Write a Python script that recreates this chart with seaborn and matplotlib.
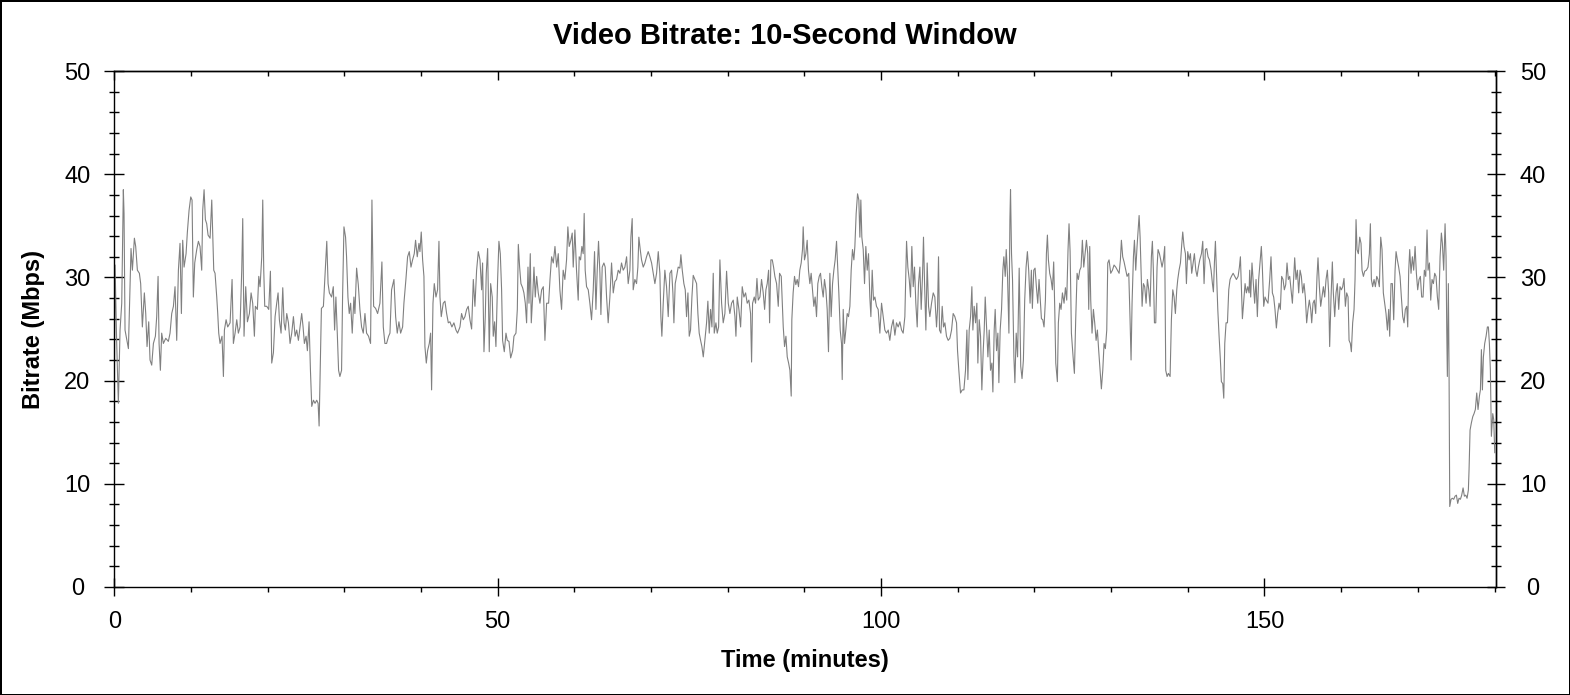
import matplotlib
matplotlib.use("Agg")
import matplotlib.pyplot as plt
from matplotlib.ticker import MultipleLocator
import seaborn as sns
import pandas as pd

# Bitrate trace, split into six stretches of time.
# minutes_X / mbps_X pairs, each value.
minutes_a = [0.0, 0.1, 0.3, 0.53, 0.75, 0.97, 1.18, 1.27, 1.40, 1.71, 1.84, 2.05, 2.18, 2.36, 2.62, 2.79, 3.01, 3.27,
             3.44, 3.66, 3.92, 4.10, 4.27, 4.49, 4.66, 4.88, 5.10, 5.36, 5.53, 5.71, 5.84, 6.01, 6.18, 6.40, 6.71,
             7.05, 7.27, 7.49, 7.71, 7.92, 8.14, 8.36, 8.57, 8.75, 8.92, 9.10, 9.36, 9.53, 9.75, 9.97, 10.14, 10.31,
             10.49, 10.75, 10.97, 11.18, 11.40, 11.53, 11.71, 11.88, 12.05, 12.23, 12.49, 12.71, 12.84, 12.97, 13.14,
             13.36, 13.49, 13.62, 13.79, 14.05, 14.23, 14.36, 14.58, 14.79, 15.10, 15.36, 15.53, 15.75, 15.97, 16.18,
             16.40, 16.62, 16.75, 16.92, 17.14, 17.36, 17.62, 17.84, 18.05, 18.27, 18.40, 18.66, 18.84, 19.01, 19.23,
             19.36, 19.49, 19.62, 19.88, 20.14, 20.36, 20.53, 20.75, 20.97, 21.18, 21.36, 21.53, 21.75, 21.97, 22.14,
             22.31, 22.49, 22.71, 22.92, 23.14, 23.36, 23.58, 23.79, 24.01, 24.23, 24.44, 24.62, 24.79, 25.01, 25.18,
             25.40, 25.58, 25.75, 25.97, 26.18, 26.40, 26.58, 26.71, 26.84, 27.01, 27.27, 27.53, 27.71, 27.88, 28.05]
mbps_a = [19.0, 31.2, 24.0, 17.8, 24.9, 27.5, 38.5, 36.2, 24.9, 23.6, 23.1, 29.1, 32.8, 30.7, 33.8, 33.0, 30.7, 30.4,
          29.4, 25.2, 28.5, 26.5, 23.3, 25.7, 22.0, 21.5, 23.6, 24.3, 26.2, 30.1, 23.6, 21.0, 24.6, 23.6, 24.1,
          23.8, 24.6, 26.5, 27.2, 29.1, 23.9, 30.7, 33.3, 26.5, 33.6, 31.0, 32.3, 34.4, 36.5, 37.8, 37.5, 28.1,
          31.4, 32.7, 33.5, 33.0, 30.7, 36.5, 38.5, 35.6, 35.2, 34.1, 33.8, 37.5, 34.0, 30.7, 30.4,
          28.1, 26.5, 24.6, 23.6, 24.3, 20.4, 24.9, 25.9, 25.2, 25.6, 29.8, 23.6, 24.6, 25.9, 24.6,
          25.2, 30.7, 35.7, 24.3, 29.1, 25.7, 26.5, 28.5, 27.5, 24.3, 27.2, 26.9, 30.1, 29.1, 32.0,
          37.5, 30.7, 27.2, 27.2, 26.9, 30.6, 21.7, 22.7, 26.2, 27.5, 28.5, 25.9, 24.6, 29.0, 25.6,
          24.9, 26.5, 25.6, 23.6, 24.6, 26.2, 24.3, 24.9, 23.9, 25.2, 26.5, 25.2, 23.6, 24.3, 22.9,
          25.7, 21.0, 17.5, 18.1, 17.8, 18.1, 17.8, 15.6, 20.4, 27.0, 27.2, 31.0, 33.5, 29.4, 28.5]

minutes_b = [28.34, 28.56, 28.73, 28.90, 29.08, 29.25, 29.42, 29.64, 29.77, 29.95, 30.16, 30.29, 30.47, 30.64, 30.82,
             31.03, 31.25, 31.38, 31.60, 31.82, 32.03, 32.25, 32.47, 32.69, 32.90, 33.16, 33.42, 33.60, 33.69, 33.82,
             34.08, 34.34, 34.64, 34.90, 35.08, 35.29, 35.51, 35.77, 35.95, 36.16, 36.47, 36.69, 36.90, 37.12, 37.34,
             37.60, 37.77, 38.03, 38.25, 38.47, 38.69, 38.90, 39.12, 39.29, 39.51, 39.73, 39.86, 40.03, 40.21, 40.38,
             40.51, 40.69, 40.86, 41.08, 41.25, 41.38, 41.56, 41.73, 41.95, 42.16, 42.34, 42.47, 42.64, 42.90, 43.12,
             43.34, 43.56, 43.77, 44.03, 44.29, 44.56, 44.77, 45.08, 45.29, 45.51, 45.73, 45.95, 46.16, 46.38, 46.60,
             46.82, 47.03, 47.25, 47.47, 47.69, 47.90, 48.03, 48.21, 48.38, 48.51, 48.69, 48.90, 49.08, 49.29, 49.42,
             49.60, 49.77, 49.99, 50.16, 50.34, 50.51, 50.64, 50.86, 51.08, 51.25, 51.47, 51.69, 51.95, 52.12, 52.38,
             52.56, 52.69, 52.86, 53.03, 53.25, 53.42, 53.60, 53.77, 53.95, 54.08, 54.25, 54.38, 54.56, 54.73, 54.90,
             55.08, 55.29, 55.51, 55.73, 55.95, 56.16, 56.38, 56.64, 56.82, 57.03, 57.25, 57.47, 57.69, 57.90]
mbps_b = [28.1, 29.1, 24.9, 28.1, 24.6, 21.0, 20.4, 21.0, 28.1, 34.9, 33.9, 32.0, 28.1, 26.5, 27.5,
          24.6, 28.1, 26.5, 30.9, 29.3, 26.9, 25.2, 24.6, 26.5, 24.6, 24.3, 23.6, 37.5, 32.7, 27.2,
          27.0, 26.5, 27.5, 31.5, 25.2, 23.6, 23.6, 24.3, 24.6, 28.8, 29.8, 26.2, 24.6, 25.7, 24.6,
          25.2, 27.5, 29.8, 32.0, 32.5, 31.0, 31.7, 32.3, 33.6, 32.0, 33.3, 32.5, 34.4, 31.7, 30.1,
          23.3, 21.7, 22.9, 23.6, 24.6, 19.1, 27.5, 29.4, 28.1, 28.8, 33.5, 28.1, 26.2, 27.5, 27.7,
          26.5, 25.6, 25.7, 25.2, 25.6, 24.9, 24.6, 25.2, 26.5, 25.9, 26.2, 26.9, 27.2, 25.9, 25.0,
          29.8, 27.2, 30.7, 32.5, 31.7, 28.8, 31.4, 22.8, 26.2, 30.4, 32.8, 22.8, 29.4, 28.1, 24.3,
          25.7, 23.3, 29.8, 33.5, 32.3, 28.8, 23.9, 22.8, 24.6, 23.9, 23.8, 22.2, 22.9, 24.3, 24.6,
          26.9, 33.2, 31.0, 29.4, 29.0, 28.5, 27.5, 25.6, 31.0, 27.5, 32.3, 25.6, 28.1, 31.0, 28.1,
          30.1, 28.5, 27.5, 28.8, 29.1, 23.9, 27.5, 27.5, 29.8, 32.0, 31.4, 33.0, 31.0, 32.3]

minutes_c = [58.11, 58.33, 58.54, 58.76, 58.98, 59.15, 59.33, 59.54, 59.72, 59.85, 60.07, 60.28, 60.50, 60.63, 60.81,
             60.98, 61.15, 61.28, 61.41, 61.59, 61.81, 62.02, 62.24, 62.46, 62.63, 62.81, 62.98, 63.15, 63.33, 63.46,
             63.63, 63.85, 64.02, 64.20, 64.41, 64.63, 64.85, 65.07, 65.28, 65.50, 65.72, 65.94, 66.15, 66.37, 66.59,
             66.81, 67.02, 67.24, 67.37, 67.54, 67.67, 67.89, 68.11, 68.28, 68.41, 68.59, 68.76, 68.98, 69.20, 69.41,
             69.63, 69.85, 70.07, 70.28, 70.50, 70.72, 70.94, 71.15, 71.28, 71.41, 71.59, 71.80, 72.02, 72.24, 72.46,
             72.68, 72.85, 72.98, 73.15, 73.33, 73.54, 73.76, 73.89, 74.07, 74.28, 74.46, 74.63, 74.81, 74.98, 75.15,
             75.33, 75.50, 75.72, 75.94, 76.11, 76.28, 76.46, 76.63, 76.81, 77.02, 77.24, 77.41, 77.59, 77.76, 77.94,
             78.11, 78.24, 78.46, 78.63, 78.81, 78.98, 79.20, 79.41, 79.63, 79.85, 80.07, 80.28, 80.50, 80.72, 80.94,
             81.07, 81.24, 81.46, 81.68, 81.89, 82.11, 82.33, 82.54, 82.76, 82.98, 83.11, 83.24, 83.46, 83.63, 83.81,
             83.98, 84.20, 84.41, 84.63, 84.81, 84.98, 85.15, 85.33, 85.46, 85.63, 85.81, 85.98, 86.15, 86.37, 86.59,
             86.76, 86.98, 87.24, 87.41, 87.59, 87.76, 87.94, 88.11, 88.28]
mbps_c = [28.8, 26.9, 30.7, 29.8, 31.7, 34.9, 33.0, 33.6, 34.3, 31.0, 34.6, 30.7, 27.8, 32.0, 31.7,
          33.0, 32.3, 36.2, 30.7, 29.1, 28.8, 27.5, 25.9, 28.8, 32.5, 26.9, 30.7, 33.5, 30.4, 26.4,
          31.0, 31.4, 31.0, 28.1, 25.6, 28.1, 31.4, 28.5, 29.6, 29.8, 30.7, 30.4, 31.4, 30.7, 31.0,
          32.0, 29.4, 30.7, 33.9, 35.7, 28.8, 29.8, 29.4, 31.0, 33.9, 32.7, 31.7, 31.0, 31.4, 32.0,
          32.5, 32.0, 31.4, 30.4, 29.4, 30.4, 32.5, 30.4, 26.2, 24.3, 27.5, 30.7, 29.1, 26.2, 30.4,
          30.7, 28.5, 25.6, 29.4, 30.1, 31.0, 30.9, 32.2, 30.7, 29.4, 28.8, 26.2, 28.5, 24.3, 24.9,
          28.1, 30.2, 29.8, 29.4, 26.5, 24.6, 23.9, 23.3, 22.3, 23.9, 25.6, 27.7, 24.6, 26.9, 25.2,
          30.4, 24.6, 25.6, 24.6, 25.2, 31.7, 27.5, 25.6, 26.5, 30.6, 27.5, 26.5, 27.5, 27.8, 26.2,
          24.3, 28.1, 26.9, 25.2, 29.1, 28.1, 28.5, 27.5, 27.8, 26.5, 21.8, 27.5, 28.1, 27.5, 29.9,
          27.8, 28.1, 29.8, 28.5, 26.9, 28.8, 29.4, 30.7, 25.6, 31.7, 31.7, 31.0, 30.1, 29.4, 27.2,
          30.4, 30.1, 25.2, 23.3, 24.3, 22.3, 21.7, 21.0, 18.5]

minutes_d = [88.36, 88.53, 88.71, 88.88, 89.06, 89.23, 89.40, 89.58, 89.75, 89.84, 90.01, 90.19, 90.36, 90.53, 90.71,
             90.88, 91.06, 91.23, 91.40, 91.58, 91.75, 91.93, 92.10, 92.27, 92.45, 92.62, 92.80, 92.97, 93.14, 93.32,
             93.49, 93.67, 93.84, 94.01, 94.19, 94.32, 94.49, 94.67, 94.84, 94.93, 95.06, 95.23, 95.40, 95.58, 95.75,
             95.93, 96.10, 96.27, 96.45, 96.58, 96.75, 96.93, 97.10, 97.23, 97.36, 97.49, 97.67, 97.84, 98.01, 98.19,
             98.36, 98.53, 98.67, 98.84, 99.01, 99.19, 99.40, 99.62, 99.84, 100.06, 100.27, 100.49, 100.71, 100.93,
             101.14, 101.36, 101.58, 101.80, 102.01, 102.23, 102.45, 102.67, 102.88, 103.10, 103.32, 103.49, 103.67,
             103.84, 104.01, 104.19, 104.36, 104.53, 104.71, 104.88, 105.06, 105.23, 105.40, 105.53, 105.67, 105.84,
             106.01, 106.19, 106.36, 106.58, 106.80, 107.01, 107.23, 107.36, 107.49, 107.62, 107.80, 107.97, 108.14,
             108.32, 108.53, 108.75, 108.97, 109.19, 109.40, 109.62, 109.84, 109.97, 110.14, 110.36, 110.58, 110.80,
             111.01, 111.19, 111.32, 111.49, 111.67, 111.84, 111.97, 112.14, 112.32, 112.49, 112.62, 112.80, 112.97,
             113.14, 113.32, 113.45, 113.58, 113.75, 113.93, 114.10, 114.27, 114.45, 114.58, 114.75, 114.88, 115.06,
             115.23, 115.36, 115.53, 115.71, 115.88, 116.01, 116.19, 116.32, 116.49, 116.67, 116.80, 116.88, 117.01,
             117.14, 117.32, 117.45, 117.62, 117.80, 118.01]
mbps_d = [25.9, 28.5, 30.1, 29.3, 29.8, 29.1, 30.7, 31.4, 32.7, 34.9, 31.7, 32.3, 33.6, 30.7, 29.4,
          30.4, 28.8, 27.2, 28.1, 26.2, 29.4, 30.1, 30.4, 29.1, 28.1, 29.8, 28.8, 26.9, 22.8, 30.4,
          26.2, 29.4, 30.7, 31.7, 33.5, 31.4, 28.5, 24.9, 23.6, 20.1, 26.9, 23.6, 24.9, 26.5, 26.2,
          27.2, 30.7, 32.7, 31.7, 33.0, 36.2, 38.1, 37.5, 33.9, 37.5, 33.9, 32.7, 29.4, 33.0, 30.7,
          32.3, 28.1, 26.2, 30.7, 27.8, 28.1, 27.2, 26.9, 24.6, 27.5, 26.2, 24.9, 24.6, 24.9,
          23.9, 25.2, 25.9, 24.4, 25.6, 25.2, 25.7, 24.9, 24.6, 26.2, 33.5, 31.0, 29.8,
          28.1, 33.0, 29.1, 31.0, 27.5, 25.2, 29.4, 31.0, 26.9, 30.1, 33.9, 29.4, 24.9,
          31.4, 27.2, 26.2, 27.5, 28.5, 28.1, 25.2, 26.9, 32.0, 24.9, 24.6, 27.2, 25.2,
          25.6, 24.3, 23.9, 24.1, 24.9, 26.5, 26.2, 25.6, 22.9, 21.0, 18.8, 19.1, 19.1,
          21.0, 24.9, 20.1, 24.9, 26.2, 29.1, 24.9, 27.2, 25.6, 27.5, 21.7, 25.9, 24.3,
          19.1, 22.9, 24.9, 28.1, 25.2, 22.3, 24.9, 21.0, 21.7, 18.9, 24.9, 26.9, 22.9,
          24.6, 19.8, 24.9, 26.9, 30.7, 32.0, 30.1, 32.7, 30.1, 24.6, 35.6, 38.5, 32.3,
          29.8, 22.3, 19.8, 24.6, 22.3, 30.9]

minutes_e = [118.08, 118.21, 118.38, 118.56, 118.73, 118.91, 119.08, 119.25, 119.43, 119.60, 119.73, 119.91, 120.08,
             120.25, 120.43, 120.60, 120.78, 120.91, 121.08, 121.25, 121.43, 121.56, 121.69, 121.82, 121.99, 122.17,
             122.34, 122.51, 122.65, 122.78, 122.99, 123.12, 123.30, 123.47, 123.65, 123.86, 124.04, 124.21, 124.38,
             124.51, 124.65, 124.82, 125.04, 125.21, 125.38, 125.56, 125.73, 125.91, 126.08, 126.25, 126.43, 126.60,
             126.78, 126.95, 127.08, 127.21, 127.34, 127.51, 127.69, 127.86, 128.04, 128.21, 128.38, 128.56, 128.73,
             128.91, 129.08, 129.25, 129.43, 129.56, 129.73, 129.95, 130.17, 130.38, 130.60, 130.82, 131.04, 131.21,
             131.34, 131.51, 131.69, 131.91, 132.08, 132.30, 132.47, 132.60, 132.73, 132.91, 133.04, 133.21, 133.38,
             133.51, 133.65, 133.78, 133.91, 134.04, 134.21, 134.38, 134.56, 134.73, 134.91, 135.08, 135.25, 135.38,
             135.51, 135.65, 135.82, 135.99, 136.12, 136.30, 136.47, 136.64, 136.82, 136.99, 137.12, 137.30, 137.47,
             137.69, 137.86, 138.04, 138.21, 138.38, 138.56, 138.69, 138.86, 139.04, 139.21, 139.34, 139.51, 139.69,
             139.82, 139.99, 140.17, 140.34, 140.51, 140.69, 140.86, 141.04, 141.21, 141.38, 141.56, 141.78, 141.95,
             142.12, 142.30, 142.47, 142.64, 142.82, 143.04, 143.21, 143.34, 143.47, 143.60, 143.73, 143.91, 144.08,
             144.25, 144.38, 144.56, 144.69, 144.82, 144.99, 145.17, 145.34, 145.51, 145.69, 145.91, 146.12, 146.34,
             146.56, 146.73, 146.86, 146.99, 147.12, 147.30, 147.47, 147.64, 147.82, 147.99]
mbps_e = [27.5, 21.4, 20.2, 22.0, 27.8, 31.0, 32.5, 30.7, 27.5, 30.7, 27.0, 30.7, 30.9,
          29.1, 27.5, 29.8, 27.5, 26.0, 25.9, 25.2, 27.8, 32.3, 34.1, 31.7, 30.4, 29.8,
          28.8, 31.5, 26.9, 21.7, 19.9, 25.6, 27.5, 26.9, 28.5, 27.5, 29.0, 27.8, 32.7,
          35.2, 32.5, 24.6, 22.3, 20.7, 25.9, 30.4, 29.8, 30.7, 31.0, 33.6, 31.0, 32.3,
          33.6, 32.3, 26.9, 33.0, 27.8, 24.6, 26.9, 25.6, 23.9, 24.9, 22.9, 21.0, 19.2,
          21.0, 23.6, 23.1, 24.9, 31.4, 31.7, 30.4, 30.7, 31.2, 31.0, 30.7, 30.4, 31.7,
          33.6, 32.0, 31.5, 30.7, 30.1, 30.4, 25.9, 22.0, 27.5, 32.0, 33.6, 30.7, 33.0,
          34.4, 36.0, 33.9, 30.7, 27.2, 29.4, 29.1, 27.5, 29.8, 28.8, 27.2, 32.0, 33.5,
          30.7, 25.6, 25.6, 31.0, 32.7, 32.3, 31.7, 31.0, 31.7, 33.0, 21.0, 20.4, 20.7,
          20.4, 25.9, 28.8, 28.1, 26.5, 28.8, 29.8, 30.7, 31.4, 33.2, 34.4, 33.0, 32.3,
          29.4, 32.5, 31.7, 32.3, 30.4, 31.4, 32.3, 30.7, 30.1, 31.0, 31.7, 32.3, 33.5,
          29.4, 32.7, 32.8, 32.0, 31.7, 30.7, 29.4, 28.6, 31.4, 33.5, 30.7, 26.9, 24.3,
          22.0, 19.9, 19.7, 18.3, 23.6, 25.6, 25.6, 28.8, 29.8, 30.1, 30.4, 30.1, 29.8,
          30.1, 31.0, 32.0, 29.1, 26.0, 27.8, 29.4, 28.5, 29.1, 28.5]

minutes_f = [148.07, 148.20, 148.37, 148.55, 148.72, 148.90, 149.07, 149.24, 149.42, 149.59, 149.72, 149.90, 150.07,
             150.24, 150.46, 150.68, 150.85, 151.03, 151.20, 151.37, 151.55, 151.72, 151.90, 152.07, 152.24, 152.42,
             152.59, 152.77, 152.94, 153.11, 153.29, 153.46, 153.64, 153.81, 153.94, 154.11, 154.29, 154.46, 154.64,
             154.81, 154.98, 155.16, 155.33, 155.50, 155.68, 155.85, 156.03, 156.16, 156.33, 156.50, 156.68, 156.85,
             156.98, 157.16, 157.33, 157.50, 157.68, 157.85, 158.03, 158.20, 158.37, 158.50, 158.68, 158.85, 158.98,
             159.16, 159.33, 159.50, 159.68, 159.85, 160.03, 160.20, 160.37, 160.55, 160.72, 160.90, 161.03, 161.20,
             161.33, 161.50, 161.68, 161.81, 161.94, 162.07, 162.24, 162.42, 162.59, 162.72, 162.90, 163.07, 163.29,
             163.50, 163.68, 163.81, 163.94, 164.11, 164.29, 164.46, 164.64, 164.81, 164.98, 165.16, 165.33, 165.50,
             165.68, 165.85, 166.03, 166.20, 166.33, 166.50, 166.68, 166.85, 167.03, 167.16, 167.33, 167.50, 167.68,
             167.85, 168.03, 168.20, 168.37, 168.55, 168.68, 168.81, 168.94, 169.11, 169.29, 169.46, 169.64, 169.81,
             169.98, 170.16, 170.33, 170.50, 170.68, 170.85, 171.03, 171.20, 171.33, 171.51, 171.68, 171.85, 172.03,
             172.20, 172.37, 172.55, 172.72, 172.90, 173.07, 173.20, 173.37, 173.55, 173.68, 173.77, 173.85, 173.98,
             174.07, 174.16, 174.33, 174.50, 174.68, 174.85, 175.03, 175.20, 175.37, 175.55, 175.72, 175.90, 176.07,
             176.25, 176.42, 176.59, 176.68, 176.81, 176.98, 177.16, 177.33, 177.50, 177.68, 177.85, 178.03, 178.16,
             178.29, 178.42, 178.55, 178.72, 178.90, 179.07, 179.20, 179.33, 179.46, 179.59, 179.77, 179.90, 180.03]
mbps_f = [30.7, 28.1, 31.4, 29.4, 27.5, 29.8, 26.2, 29.8, 31.4, 33.0, 31.0, 27.2, 28.1,
          27.8, 27.5, 29.8, 32.0, 28.5, 28.1, 26.9, 25.1, 26.5, 27.5, 26.9, 30.1, 29.8,
          28.8, 29.3, 31.4, 29.8, 30.1, 28.8, 27.5, 30.1, 31.9, 29.8, 30.7, 28.5, 30.7,
          30.1, 28.5, 29.4, 28.1, 25.6, 26.9, 27.8, 26.9, 25.6, 27.5, 27.8, 26.5, 30.1,
          31.9, 29.1, 27.2, 28.1, 29.1, 28.1, 29.8, 30.7, 28.5, 23.3, 28.1, 31.5, 28.5,
          26.2, 28.5, 29.4, 26.9, 29.1, 28.8, 29.1, 29.9, 27.2, 28.5, 28.1, 23.9, 23.6,
          22.8, 25.6, 26.9, 29.8, 35.6, 32.7, 32.3, 33.9, 33.3, 30.7, 30.1, 30.6, 30.7,
          31.0, 32.3, 35.2, 29.8, 29.1, 29.8, 29.1, 30.1, 29.8, 29.1, 33.9, 32.7, 28.5,
          27.5, 26.5, 24.9, 26.9, 24.3, 29.4, 29.4, 25.9, 30.7, 32.5, 31.7, 31.0, 30.1,
          28.1, 26.2, 25.6, 26.9, 27.2, 25.2, 30.7, 32.7, 30.4, 32.0, 30.7, 33.0, 30.4,
          28.8, 29.8, 30.1, 28.1, 28.1, 30.7, 30.1, 34.6, 30.7, 31.4, 27.8, 29.8, 29.4,
          30.4, 30.1, 28.1, 26.9, 32.0, 34.3, 33.3, 30.7, 35.2, 32.0, 24.9, 20.4, 29.4,
          21.0, 7.8, 8.5, 8.6, 8.5, 8.8, 8.9, 8.1, 8.6, 8.5, 8.9, 9.6, 8.8,
          8.9, 8.6, 9.4, 11.4, 15.2, 15.9, 16.5, 16.8, 17.2, 18.8, 17.2, 18.5, 19.1,
          23.0, 19.1, 22.3, 23.6, 24.3, 25.2, 25.2, 23.6, 21.0, 14.6, 16.8, 16.2, 13.0]

df = pd.DataFrame({
    "minutes": minutes_a + minutes_b + minutes_c + minutes_d + minutes_e + minutes_f,
    "mbps": mbps_a + mbps_b + mbps_c + mbps_d + mbps_e + mbps_f,
})

sns.set_style("ticks")
plt.rcParams["font.family"] = ["Liberation Sans", "DejaVu Sans"]
plt.rcParams.update({
    "axes.linewidth": 1.0,
    "axes.edgecolor": "black",
    "axes.labelcolor": "black",
    "text.color": "black",
    "xtick.color": "black",
    "ytick.color": "black",
})

fig = plt.figure(figsize=(15.7, 6.95), dpi=100, edgecolor="black", linewidth=2)
ax = fig.add_axes([0.0728, 0.1554, 0.8801, 0.7424])

sns.lineplot(data=df, x="minutes", y="mbps", estimator=None, sort=False,
             color="#808080", linewidth=0.8, ax=ax)

ax.set_xlim(0, 180.2)
ax.set_ylim(0, 50)

ax.set_xticks([0, 50, 100, 150])
ax.xaxis.set_minor_locator(MultipleLocator(10))
ax.set_yticks(range(0, 51, 10))
ax.yaxis.set_minor_locator(MultipleLocator(2))
ax.tick_params(axis="x", which="major", bottom=True, top=False, direction="inout", length=13,
               width=1, pad=10.8, labelsize=17)
ax.tick_params(axis="x", which="minor", bottom=True, top=False, direction="out", length=3.6, width=1)
ax.tick_params(axis="y", which="major", left=True, right=False, direction="inout", length=13.7,
               width=1, pad=19.8, labelsize=17)
ax.tick_params(axis="y", which="minor", left=True, right=False, direction="inout", length=6.5, width=1)
plt.setp(ax.get_yticklabels(), ha="center")

# right-hand copy of the y axis
right = ax.secondary_yaxis("right")
right.set_yticks(range(0, 51, 10))
right.yaxis.set_minor_locator(MultipleLocator(2))
right.tick_params(which="major", direction="inout", length=13, width=1, pad=20.1, labelsize=17)
right.tick_params(which="minor", direction="inout", length=7, width=1)
plt.setp(right.get_yticklabels(), ha="center")

# ticks along the top, no labels
top = ax.secondary_xaxis("top")
top.set_xticks([0, 50, 100, 150])
top.xaxis.set_minor_locator(MultipleLocator(10))
top.tick_params(which="major", direction="in", length=6.5, width=1, labeltop=False)
top.tick_params(which="minor", direction="in", length=3.6, width=1, labeltop=False)

ax.set_xlabel("Time (minutes)", fontsize=17, fontweight="bold")
ax.xaxis.set_label_coords(0.5, -0.12)
ax.set_ylabel("Bitrate (Mbps)", fontsize=17, fontweight="bold")
ax.yaxis.set_label_coords(-0.0498, 0.5)
# title is centred on the whole figure, not on the plot area
ax.set_title("Video Bitrate: 10-Second Window", fontsize=21, fontweight="bold",
             x=0.4854, y=1.0, pad=19.4)

fig.savefig("out.png", dpi=100, edgecolor=fig.get_edgecolor())
